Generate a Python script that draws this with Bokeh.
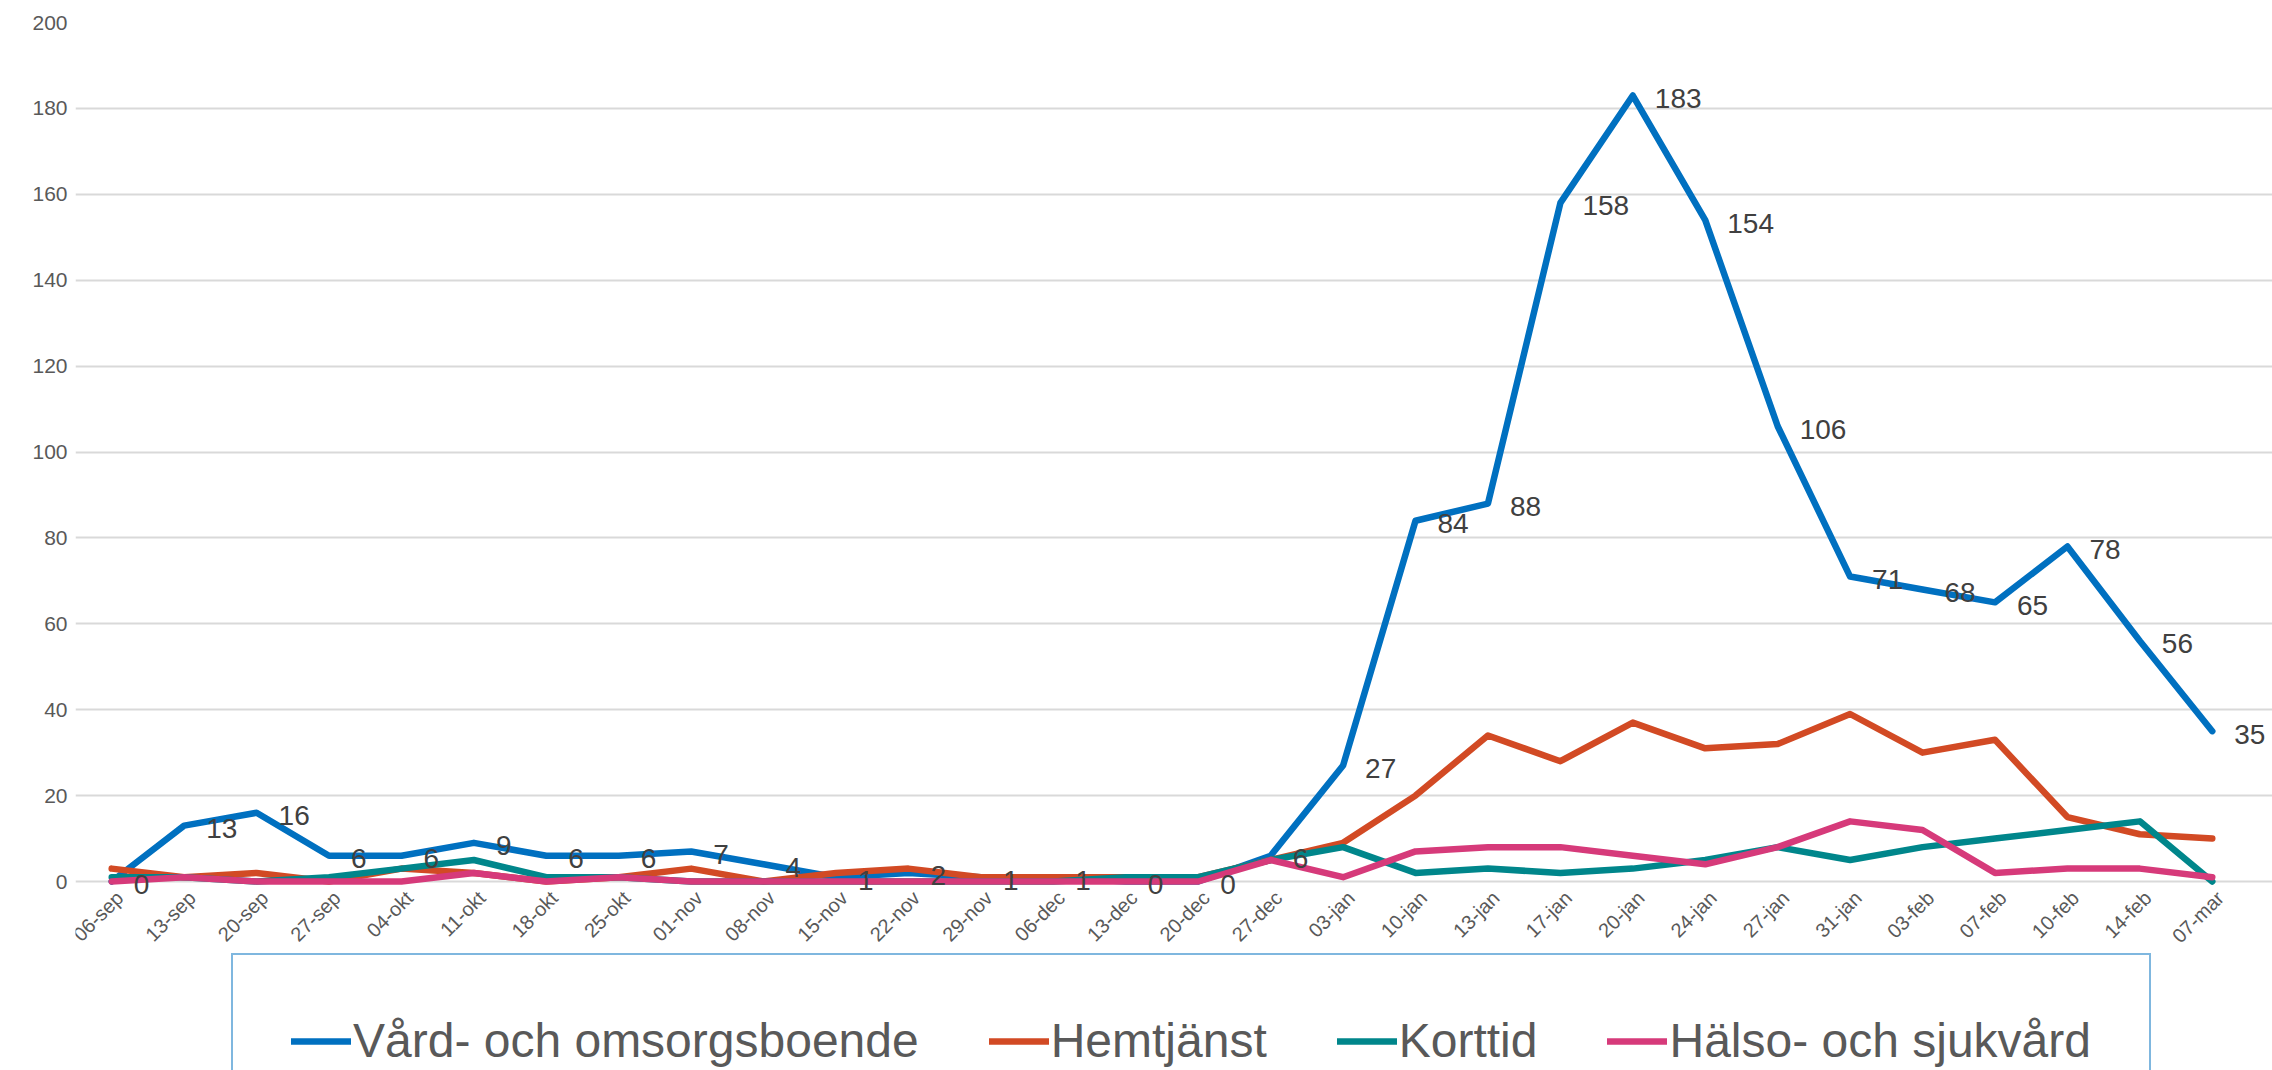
import math
from bokeh.plotting import figure
from bokeh.models import ColumnDataSource, Legend, LegendItem, Range1d, FixedTicker
from bokeh.embed import file_html
from bokeh.resources import INLINE
from bokeh.core.properties import value

dates = ["06-sep", "13-sep", "20-sep", "27-sep", "04-okt", "11-okt", "18-okt", "25-okt",
         "01-nov", "08-nov", "15-nov", "22-nov", "29-nov", "06-dec", "13-dec", "20-dec",
         "27-dec", "03-jan", "10-jan", "13-jan", "17-jan", "20-jan", "24-jan", "27-jan",
         "31-jan", "03-feb", "07-feb", "10-feb", "14-feb", "07-mar"]

vard = [0, 13, 16, 6, 6, 9, 6, 6, 7, 4, 1, 2, 1, 1, 0, 0, 6, 27, 84, 88, 158, 183, 154, 106,
        71, 68, 65, 78, 56, 35]
hemtjanst = [3, 1, 2, 0, 3, 2, 0, 1, 3, 0, 2, 3, 1, 1, 1, 1, 5, 9, 20, 34, 28, 37, 31, 32,
             39, 30, 33, 15, 11, 10]
korttid = [1, 1, 0, 1, 3, 5, 1, 1, 0, 0, 0, 0, 0, 0, 1, 1, 5, 8, 2, 3, 2, 3, 5, 8,
           5, 8, 10, 12, 14, 0]
halso = [0, 1, 0, 0, 0, 2, 0, 1, 0, 0, 0, 0, 0, 0, 0, 0, 5, 1, 7, 8, 8, 6, 4, 8,
         14, 12, 2, 3, 3, 1]

series_names = ["Vård- och omsorgsboende", "Hemtjänst", "Korttid", "Hälso- och sjukvård"]
series_colors = ["#0070C0", "#D24A24", "#00868B", "#D63A7A"]
y_ticks = [0, 20, 40, 60, 80, 100, 120, 140, 160, 180, 200]
Y_MAX = 200

FONT = "Liberation Sans"

# layout (pixels)
W, H = 2272, 1070
FRAME_L, FRAME_T = 75, 22
PLOT_R = 2248                      # right edge of the category band
ZERO_Y = 881                       # pixel row of value 0
n = len(dates)
px_per_cat = (PLOT_R - FRAME_L) / n
px_per_unit = (ZERO_Y - FRAME_T) / Y_MAX
y_min = -(H - ZERO_Y) / px_per_unit        # frame reaches down to hold labels and legend
x_max = n - 0.5 + (W - PLOT_R) / px_per_cat

pos = list(range(n))
src = ColumnDataSource(data=dict(
    pos=pos, date=dates, vard=vard, hemtjanst=hemtjanst, korttid=korttid, halso=halso,
    lbl=[str(v) for v in vard], zero=[0] * n,
))

p = figure(
    width=W, height=H,
    x_range=Range1d(-0.5, x_max),
    y_range=Range1d(y_min, Y_MAX),
    output_backend="svg", toolbar_location=None,
    min_border_left=FRAME_L, min_border_right=0, min_border_top=FRAME_T,
    min_border_bottom=0,
)
p.outline_line_color = None
p.background_fill_color = "white"
p.border_fill_color = "white"

p.xgrid.grid_line_color = None
p.ygrid.ticker = FixedTicker(ticks=y_ticks)
p.ygrid.grid_line_color = "#D9D9D9"
p.ygrid.grid_line_width = 2

p.yaxis.ticker = FixedTicker(ticks=y_ticks)
p.yaxis.axis_line_color = None
p.yaxis.major_tick_line_color = None
p.yaxis.minor_tick_line_color = None
p.yaxis.major_label_text_font = FONT
p.yaxis.major_label_text_font_size = "21px"
p.yaxis.major_label_text_color = "#595959"
p.yaxis.major_label_standoff = 2
p.xaxis.visible = False

# category labels under the zero line, rotated 45 degrees
p.text(x="pos", y="zero", text="date", source=src, angle=math.pi / 4,
       x_offset=8, y_offset=13, text_align="right", text_baseline="middle",
       text_font=value(FONT), text_font_size="20px", text_color="#595959")

renderers = []
for col, color in zip(["vard", "hemtjanst", "korttid", "halso"], series_colors):
    r = p.line(x="pos", y=col, source=src, line_color=color, line_width=6.5,
               line_join="round", line_cap="round")
    renderers.append(r)

p.text(x="pos", y="vard", text="lbl", source=src, x_offset=22, y_offset=3,
       text_align="left", text_baseline="middle", text_font=value(FONT),
       text_font_size="28px", text_color="#404040")

items = [LegendItem(label=s, renderers=[r]) for s, r in zip(series_names, renderers)]
legend = Legend(items=items, orientation="horizontal", location=(156, -58))
legend.label_text_font = FONT
legend.label_text_font_size = "48px"
legend.label_text_color = "#595959"
legend.glyph_width = 60
legend.glyph_height = 20
legend.label_standoff = 2
legend.spacing = 70
legend.padding = 58
legend.border_line_color = "#0070C0"
legend.border_line_width = 2
legend.background_fill_color = "white"
legend.background_fill_alpha = 1.0
p.add_layout(legend)

open("out.html", "w").write(file_html(p, INLINE))
